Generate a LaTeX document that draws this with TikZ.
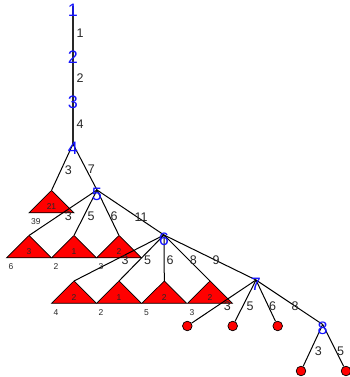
\documentclass[tikz,border=0pt]{standalone}
\usepackage{fontspec}
\setmainfont{Liberation Sans}
\usepackage{xcolor}
\definecolor{trred}{RGB}{255,0,0}
\definecolor{trblue}{RGB}{20,20,255}
\definecolor{trdark}{RGB}{40,40,40}
\usetikzlibrary{calc}
\tikzset{
  vlbl/.style={font=\fontsize{18}{18}\selectfont, text=trblue, inner sep=0pt, yshift=-4pt},
  elbl/.style={font=\fontsize{12.5}{12.5}\selectfont, text=trdark, inner sep=0pt},
  tlbl/.style={font=\fontsize{8.5}{8.5}\selectfont, text=trdark, inner sep=0pt},
  tri/.style={fill=trred, draw=black, line width=0.7pt},
  edg/.style={draw=black, line width=1pt},
  stem/.style={draw=trdark, line width=1.8pt},
  leaf/.style={circle, fill=trred, draw=black, line width=0.7pt, minimum size=9.6pt, inner sep=0pt}
}
\newcommand{\subtri}[4]{%
  \coordinate (#1) at (#2);
  \draw[tri] (#1) -- ++(-22.5,22.3) -- ++(45,0) -- cycle;
  \node[tlbl] (#1in) at ($(#1)+(0,16.5)$) {#3};
  \node[tlbl, anchor=west] (#1lo) at ($(#1)+(-20.5,31.2)$) {#4};
}
\begin{document}
\begin{tikzpicture}[x=1pt, y=-1pt]
      \useasboundingbox (0,0) rectangle (350,377);
      \coordinate (v1) at (73,6);
      \coordinate (v2) at (73,53);
      \coordinate (v3) at (73,98);
      \coordinate (v4) at (73,144);
      \coordinate (v5) at (97,190);
      \coordinate (v6) at (164,235);
      \coordinate (v7) at (256,280);
      \coordinate (v8) at (322.7,324.5);
      % subtrees
      \subtri{t21}{51.5,190.5}{21}{39}
      \subtri{ta}{29,235.5}{3}{6}
      \subtri{tb}{74,235.5}{1}{2}
      \subtri{tc}{119,235.5}{2}{3}
      \subtri{td}{74,281}{2}{4}
      \subtri{te}{119,281}{1}{2}
      \subtri{tf}{164.3,281}{2}{5}
      \subtri{tg}{210,281}{2}{3}
      % edges
      \draw[stem] (v1) -- (v2) -- (v3) -- (v4);
      \draw[edg] (v4) -- (t21);
      \draw[edg] (v4) -- (v5);
      \foreach \t in {ta,tb,tc,v6}
            \draw[edg] (v5) -- (\t);
      \foreach \t in {td,te,tf,tg,v7}
            \draw[edg] (v6) -- (\t);
      \node[leaf] (c1) at (187.3,326) {};
      \node[leaf] (c2) at (232.7,326) {};
      \node[leaf] (c3) at (277.7,326) {};
      \node[leaf] (c4) at (301,371) {};
      \node[leaf] (c5) at (346,371) {};
      \foreach \t in {c1,c2,c3}
            \draw[edg] (v7) -- (\t);
      \draw[edg] (v7) -- (v8);
      \draw[edg] (v8) -- (c4);
      \draw[edg] (v8) -- (c5);
      % edge labels
      \node[elbl] (l12) at (80,33) {1};
      \node[elbl] (l23) at (80,78) {2};
      \node[elbl] (l34) at (80,124) {4};
      \node[elbl] (l4a) at (68.3,170) {3};
      \node[elbl] (l45) at (91.3,169.3) {7};
      \node[elbl] (l5a) at (68.3,216) {3};
      \node[elbl] (l5b) at (91,216) {5};
      \node[elbl] (l5c) at (114,216) {6};
      \node[elbl] (l56) at (141,217.5) {11};
      \node[elbl] (l6a) at (125,260) {3};
      \node[elbl] (l6b) at (147.7,260) {5};
      \node[elbl] (l6c) at (170,260) {6};
      \node[elbl] (l6d) at (193.3,260) {8};
      \node[elbl] (l67) at (216,260) {9};
      \node[elbl] (l7a) at (227.3,306) {3};
      \node[elbl] (l7b) at (250,306) {5};
      \node[elbl] (l7c) at (272.7,306) {6};
      \node[elbl] (l78) at (295,306) {8};
      \node[elbl] (l8a) at (318.3,351) {3};
      \node[elbl] (l8b) at (340.7,351) {5};
      % vertex labels
      \node[vlbl] (n1) at (v1) {1};
      \node[vlbl] (n2) at (v2) {2};
      \node[vlbl] (n3) at (v3) {3};
      \node[vlbl] (n4) at (v4) {4};
      \node[vlbl] (n5) at (v5) {5};
      \node[vlbl] (n6) at (v6) {6};
      \node[vlbl] (n7) at (v7) {7};
      \node[vlbl] (n8) at (v8) {8};
\end{tikzpicture}
\end{document}
